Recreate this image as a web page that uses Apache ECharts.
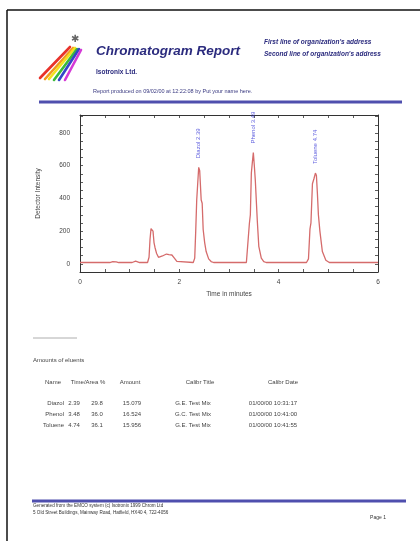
<!DOCTYPE html>
<html>
<head>
<meta charset="utf-8">
<script src="https://cdn.jsdelivr.net/npm/echarts@6/dist/echarts.min.js"></script>
<style>
  html, body { margin: 0; padding: 0; background: #fff; }
  #chart { width: 420px; height: 541px; }
</style>
</head>
<body>
<div id="chart"></div>
<script>
// Detector trace: retention time (min) and signal
const traceTime = [
  0.00, 0.60, 0.66, 0.69, 0.73, 0.78, 1.05, 1.09, 1.12, 1.16, 1.20,
  1.36, 1.39, 1.41, 1.43, 1.45, 1.47, 1.49, 1.51, 1.54, 1.58, 1.62,
  1.66, 1.70, 1.74, 1.79, 1.85, 1.90, 1.95, 1.99,
  2.28, 2.31, 2.33, 2.35, 2.37, 2.39, 2.41, 2.44, 2.46, 2.48, 2.51, 2.54, 2.59, 2.64, 2.69,
  3.35, 3.38, 3.41, 3.43, 3.45, 3.47, 3.49, 3.51, 3.53, 3.55, 3.57, 3.60, 3.65, 3.70, 3.75,
  4.56, 4.60, 4.63, 4.65, 4.68, 4.71, 4.74, 4.76, 4.78, 4.80, 4.83, 4.88, 4.95, 5.02, 6.00
];
const traceSignal = [
  8, 8, 13, 16, 12, 8, 8, 13, 16, 9, 8,
  8, 40, 150, 215, 225, 200, 130, 100, 65, 40, 32,
  48, 58, 60, 56, 54, 35, 15, 8,
  8, 35, 200, 390, 400, 590, 570, 390, 370, 210, 130, 75, 30, 14, 8,
  8, 20, 245, 300, 555, 620, 680, 600, 510, 500, 262, 107, 35, 14, 8,
  8, 30, 212, 250, 490, 520, 555, 540, 430, 300, 200, 75, 22, 8, 8
];

// Identified peaks
const peakNames = ['Diazol', 'Phenol', 'Toluene'];
const peakTimes = [2.39, 3.49, 4.74];
const peakHeights = [590, 680, 555];

// Axis ticks
const xTickLabels = [0, 2, 4, 6];
const yTickLabels = [0, 200, 400, 600, 800];

// Results table
const tableHeaders = ['Name', 'Time/Area %', 'Amount', 'Calibr Title', 'Calibr Date'];
const rowNames = ['Diazol', 'Phenol', 'Toluene'];
const rowTimes = ['2.39', '3.48', '4.74'];
const rowAreas = ['29.8', '36.0', '36.1'];
const rowAmounts = ['15.079', '16.524', '15.956'];
const rowCalibTitles = ['G.E. Test Mix', 'G.C. Test Mix', 'G.E. Test Mix'];
const rowCalibDates = ['01/00/00 10:31:17', '01/00/00 10:41:00', '01/00/00 10:41:55'];

const FONT = 'Liberation Sans, Arial, sans-serif';
const NAVY = '#2b2b7e';

const chart = echarts.init(document.getElementById('chart'), null, { renderer: 'canvas' });

const traceData = traceTime.map((t, i) => [t, traceSignal[i]]);
const peakData = peakTimes.map((t, i) => ({ value: [t, peakHeights[i]], name: peakNames[i] + ' ' + t.toFixed(2) }));

function txt(x, y, text, size, opts) {
  return {
    type: 'text', x: x, y: y, silent: true,
    style: Object.assign({ text: text, font: size + 'px ' + FONT, fill: '#444', textVerticalAlign: 'middle' }, opts || {})
  };
}

const graphics = [];
// page frame (left and top edges)
graphics.push({ type: 'line', shape: { x1: 7, y1: 10, x2: 420, y2: 10 }, style: { stroke: '#111', lineWidth: 1.5 } });
graphics.push({ type: 'line', shape: { x1: 7, y1: 10, x2: 7, y2: 541 }, style: { stroke: '#111', lineWidth: 1.5 } });

// rainbow logo
const stripeColors = ['#e8322a', '#f29a1e', '#f3e11f', '#3cba3a', '#3346c8', '#d43ad6'];
const stripeTop = [[70, 47], [73, 48], [75, 48], [77, 49], [79, 49], [81, 50]];
const stripeBottom = [[40, 78], [45, 79], [49, 79], [54, 80], [59, 80], [65, 80]];
stripeColors.forEach((c, i) => {
  graphics.push({ type: 'line', shape: { x1: stripeBottom[i][0], y1: stripeBottom[i][1], x2: stripeTop[i][0], y2: stripeTop[i][1] },
    style: { stroke: c, lineWidth: 2.6, lineCap: 'round' } });
});
graphics.push(txt(75, 39, '✱', 10, { fill: '#666', textAlign: 'center' }));

// header
graphics.push(txt(96, 51, 'Chromatogram Report', 13.5, { fill: NAVY, font: 'italic bold 13.5px ' + FONT }));
graphics.push(txt(96, 72, 'Isotronix Ltd.', 6.5, { fill: NAVY, font: 'bold 6.5px ' + FONT }));
graphics.push(txt(264, 42, "First line of organization's address", 6.5, { fill: NAVY, font: 'italic bold 6.5px ' + FONT }));
graphics.push(txt(264, 54, "Second line of organization's address", 6.5, { fill: NAVY, font: 'italic bold 6.5px ' + FONT }));
graphics.push(txt(93, 91, 'Report produced on 09/02/00 at 12:22:08 by Put your name here.', 5.5, { fill: '#3a3a80' }));
graphics.push({ type: 'line', shape: { x1: 39, y1: 102, x2: 402, y2: 102 }, style: { stroke: '#4f4fae', lineWidth: 3 } });

// results section
graphics.push({ type: 'line', shape: { x1: 33, y1: 338, x2: 77, y2: 338 }, style: { stroke: '#999', lineWidth: 0.8 } });
graphics.push(txt(33, 360, 'Amounts of eluents', 6, { fill: '#444' }));
const headerX = [53, 88, 130, 200, 283];
tableHeaders.forEach((h, i) => graphics.push(txt(headerX[i], 382, h, 6, { fill: '#444', textAlign: 'center' })));
const rowY = [403, 414, 425];
rowNames.forEach((n, i) => {
  graphics.push(txt(64, rowY[i], n, 6, { fill: '#444', textAlign: 'right' }));
  graphics.push(txt(74, rowY[i], rowTimes[i], 6, { fill: '#444', textAlign: 'center' }));
  graphics.push(txt(97, rowY[i], rowAreas[i], 6, { fill: '#444', textAlign: 'center' }));
  graphics.push(txt(132, rowY[i], rowAmounts[i], 6, { fill: '#444', textAlign: 'center' }));
  graphics.push(txt(193, rowY[i], rowCalibTitles[i], 6, { fill: '#444', textAlign: 'center' }));
  graphics.push(txt(273, rowY[i], rowCalibDates[i], 6, { fill: '#444', textAlign: 'center' }));
});

// footer
graphics.push({ type: 'line', shape: { x1: 32, y1: 501, x2: 406, y2: 501 }, style: { stroke: '#4f4fae', lineWidth: 3 } });
graphics.push(txt(33, 505.5, 'Generated from the EMCO system (c) Isotronix 1999 Chrom Ltd', 4.6, { fill: '#333' }));
graphics.push(txt(33, 513, '5 Old Street Buildings, Mainway Road, Hatfield, HX40 4, 722-4056', 4.6, { fill: '#333' }));
graphics.push(txt(378, 518, 'Page 1', 5, { fill: '#333', textAlign: 'center' }));

const axisLine = { show: true, onZero: false, lineStyle: { color: '#333', width: 1 } };
const tickIn = { show: true, inside: true, length: 3, lineStyle: { color: '#333', width: 0.8 } };

const option = {
  backgroundColor: '#fff',
  animation: false,
  grid: { left: 80, right: 42, top: 115, bottom: 269, containLabel: false },
  xAxis: [
    {
      type: 'value', min: 0, max: 6, interval: 0.5,
      name: 'Time in minutes', nameLocation: 'middle', nameGap: 19,
      nameTextStyle: { fontSize: 6.5, color: '#444', fontFamily: FONT },
      axisLine: axisLine, axisTick: tickIn, splitLine: { show: false },
      axisLabel: { fontSize: 6.5, color: '#444', fontFamily: FONT, margin: 7,
        formatter: v => (xTickLabels.indexOf(v) >= 0 ? String(v) : '') }
    },
    {
      type: 'value', min: 0, max: 6, interval: 0.5, position: 'top',
      axisLine: axisLine, axisTick: tickIn, axisLabel: { show: false }, splitLine: { show: false }
    }
  ],
  yAxis: [
    {
      type: 'value', min: -50, max: 910, interval: 50,
      name: 'Detector Intensity', nameLocation: 'middle', nameGap: 38, nameRotate: 90,
      nameTextStyle: { fontSize: 6.5, color: '#444', fontFamily: FONT },
      axisLine: axisLine, axisTick: tickIn, splitLine: { show: false },
      axisLabel: { fontSize: 6.5, color: '#444', fontFamily: FONT, margin: 10,
        formatter: v => (yTickLabels.indexOf(v) >= 0 ? String(v) : '') }
    },
    {
      type: 'value', min: -50, max: 910, interval: 50, position: 'right',
      axisLine: axisLine, axisTick: tickIn, axisLabel: { show: false }, splitLine: { show: false }
    }
  ],
  series: [
    {
      type: 'line', data: traceData, symbol: 'none', smooth: false,
      lineStyle: { color: '#d56b6b', width: 1.3 }, z: 3
    },
    {
      type: 'scatter', data: peakData, symbolSize: 0, z: 4,
      label: {
        show: true, position: 'top', distance: 9, rotate: 90,
        align: 'left', verticalAlign: 'middle',
        formatter: p => p.name,
        fontSize: 6, color: '#3535d6', fontFamily: FONT
      }
    }
  ],
  graphic: graphics
};

chart.setOption(option);
</script>
</body>
</html>
